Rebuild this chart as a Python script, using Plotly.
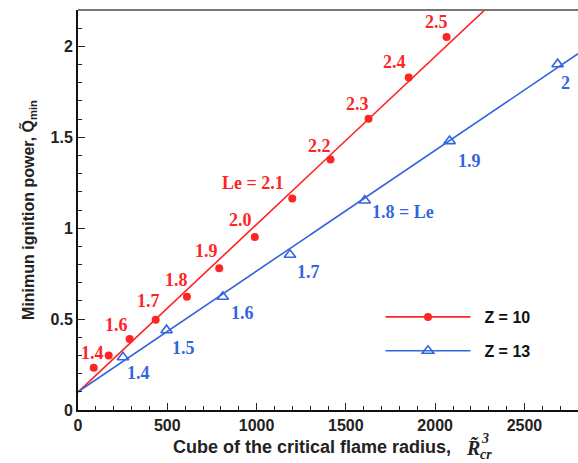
import plotly.graph_objects as go
import numpy as np

# Z = 10 series (filled circles)
z10_x = [88, 172, 289, 435, 610, 791, 990, 1200, 1414, 1627, 1852, 2064]
z10_y = [0.233, 0.300, 0.390, 0.496, 0.623, 0.779, 0.952, 1.163, 1.378, 1.602, 1.829, 2.052]
# Z = 13 series (open triangles)
z13_x = [252, 496, 811, 1187, 1606, 2081, 2686]
z13_y = [0.290, 0.439, 0.623, 0.854, 1.152, 1.479, 1.902]

# linear fits: (intercept, slope)
z10_fit = (0.098, 0.000923)
z13_fit = (0.100, 0.000664)

# Lewis number labels
z10_labels = ["1.4", "1.6", "1.7", "1.8", "1.9", "2.0", "Le = 2.1", "2.2", "2.3", "2.4", "2.5"]
z10_label_x = [79, 215, 392, 554, 722, 908, 979, 1351, 1565, 1774, 2007]
z10_label_y = [0.313, 0.469, 0.598, 0.717, 0.873, 1.047, 1.250, 1.452, 1.681, 1.915, 2.132]

z13_labels = ["1.4", "1.5", "1.6", "1.7", "1.8 = Le", "1.9", "2"]
z13_label_x = [340, 589, 921, 1289, 1820, 2193, 2729]
z13_label_y = [0.202, 0.340, 0.536, 0.757, 1.088, 1.369, 1.797]

RED = "#ff2424"
BLUE = "#3366dd"

x_range = [0, 2800]
y_range = [0, 2.2]

fig = go.Figure()

# fitted lines
fx = np.linspace(0, 2800, 400)
for (b, m), col in [(z10_fit, RED), (z13_fit, BLUE)]:
    fy = b + m * fx
    keep = fy <= y_range[1] + 0.01
    fig.add_trace(go.Scatter(x=fx[keep], y=fy[keep], mode="lines",
                             line=dict(color=col, width=1.6),
                             showlegend=False, hoverinfo="skip"))

z10_marker = dict(symbol="circle", size=8, color=RED)
z13_marker = dict(symbol="triangle-up-open", size=10, color=BLUE,
                  line=dict(width=1.6, color=BLUE))

# data points
fig.add_trace(go.Scatter(x=z10_x, y=z10_y, mode="markers", marker=z10_marker,
                         showlegend=False))
fig.add_trace(go.Scatter(x=z13_x, y=z13_y, mode="markers", marker=z13_marker,
                         showlegend=False))

# legend entries: line with marker
fig.add_trace(go.Scatter(x=[None], y=[None], mode="lines+markers",
                         name="\u00a0\u00a0<b>Z = 10</b>",
                         legendgroup="a", line=dict(color=RED, width=1.6),
                         marker=z10_marker))
fig.add_trace(go.Scatter(x=[None], y=[None], mode="lines+markers",
                         name="\u00a0\u00a0<b>Z = 13</b>",
                         legendgroup="b", line=dict(color=BLUE, width=1.6),
                         marker=z13_marker))

annotations = []
for txt, x, y in zip(z10_labels, z10_label_x, z10_label_y):
    annotations.append(dict(x=x, y=y, text="<b>%s</b>" % txt, showarrow=False,
                            font=dict(family="Liberation Serif", size=18, color=RED)))
for txt, x, y in zip(z13_labels, z13_label_x, z13_label_y):
    annotations.append(dict(x=x, y=y, text="<b>%s</b>" % txt, showarrow=False,
                            font=dict(family="Liberation Serif", size=18, color=BLUE)))

# x-axis title with a stacked super/subscript on the radius symbol
PLOT_L, PLOT_B, PLOT_W, PLOT_H = 78, 410, 500, 400


def paper_xy(px, py):
    return (px - PLOT_L) / PLOT_W, (PLOT_B - py) / PLOT_H


title_font = dict(family="Liberation Sans", size=18, color="#222")
serif_font = dict(family="Liberation Serif", size=20, color="#222")
small_serif = dict(family="Liberation Serif", size=14, color="#222")
title_parts = [
    ("<b>Cube of the critical flame radius,</b>", (312, 447), "center", title_font),
    ("<b><i>R̃</i></b>", (464, 448), "left", serif_font),
    ("<b><i>3</i></b>", (479, 438), "left", small_serif),
    ("<b><i>cr</i></b>", (478, 454), "left", small_serif),
]
for txt, (px, py), anchor, fnt in title_parts:
    ax, ay = paper_xy(px, py)
    annotations.append(dict(xref="paper", yref="paper", x=ax, y=ay, text=txt,
                            showarrow=False, xanchor=anchor, yanchor="middle",
                            font=fnt))

axis_font = dict(family="Liberation Sans", size=16, color="#222")
fig.update_layout(
    width=578, height=463,
    margin=dict(l=PLOT_L, r=0, t=10, b=53),
    paper_bgcolor="white", plot_bgcolor="white",
    annotations=annotations,
    showlegend=True,
    legend=dict(x=0.605, y=0.19, xanchor="left", yanchor="middle",
                font=dict(family="Liberation Sans", size=16, color="#111"),
                itemwidth=85, bgcolor="rgba(0,0,0,0)", tracegroupgap=10),
    xaxis=dict(range=x_range, tickvals=[0, 500, 1000, 1500, 2000, 2500],
               ticktext=["<b>%d</b>" % v for v in [0, 500, 1000, 1500, 2000, 2500]],
               ticks="inside", ticklen=7, tickwidth=1.2, tickcolor="#222",
               minor=dict(dtick=100, ticks="inside", ticklen=4, tickcolor="#222"),
               showgrid=False, zeroline=False, showline=True, linecolor="#111", linewidth=2,
               tickfont=axis_font),
    yaxis=dict(range=y_range, tickvals=[0, 0.5, 1, 1.5, 2],
               ticktext=["<b>0</b>", "<b>0.5</b>", "<b>1</b>", "<b>1.5</b>", "<b>2</b>"],
               ticks="inside", ticklen=7, tickwidth=1.2, tickcolor="#222",
               minor=dict(dtick=0.1, ticks="inside", ticklen=4, tickcolor="#222"),
               showgrid=False, zeroline=False, showline=True, linecolor="#111", linewidth=2,
               tickfont=axis_font,
               title=dict(text="<b>Minimun ignition power, Q̃<sub>min</sub></b>",
                          font=dict(family="Liberation Sans", size=16, color="#222"),
                          standoff=12)),
    shapes=[dict(type="line", xref="paper", yref="paper", x0=0, x1=1, y0=1, y1=1,
                 line=dict(color="#777", width=2))],
)

fig.write_html("out.html")
